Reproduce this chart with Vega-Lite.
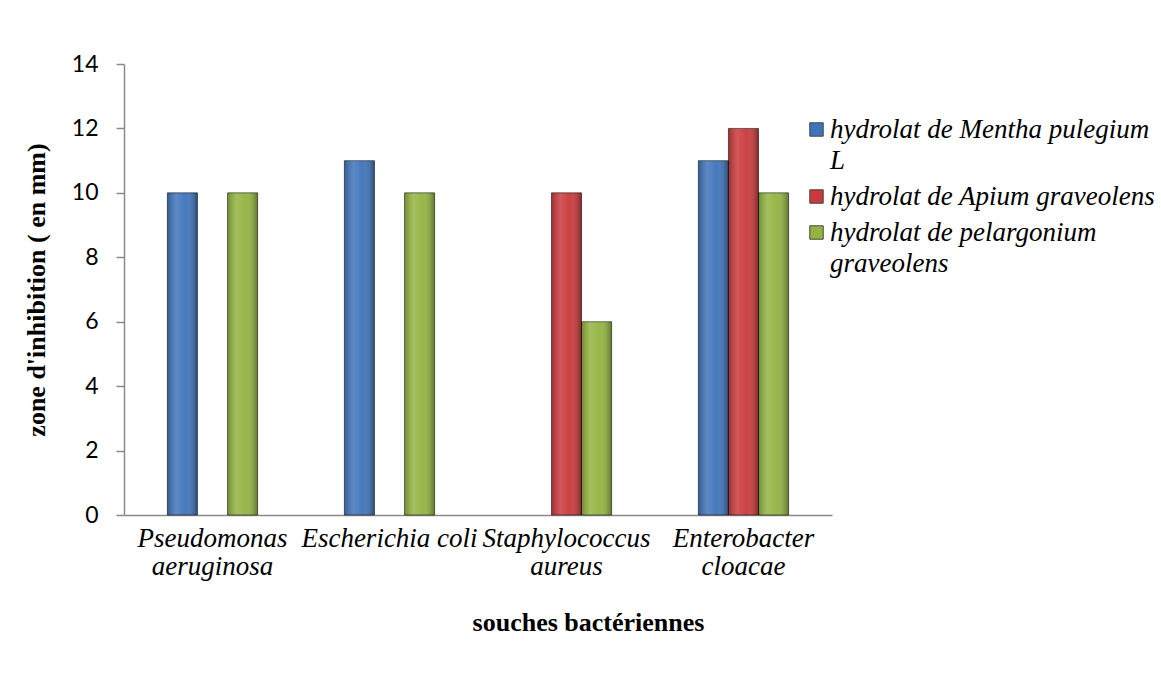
{
  "$schema": "https://vega.github.io/schema/vega-lite/v6.json",
  "width": 708,
  "height": 451,
  "autosize": "none",
  "padding": {"left": 124, "top": 64, "right": 329, "bottom": 162},
  "background": "white",
  "config": {"view": {"stroke": null}},
  "data": {
    "values": [
      {"souche": "Pseudomonas aeruginosa", "hydrolat": "hydrolat de Mentha pulegium L", "zone": 10},
      {"souche": "Pseudomonas aeruginosa", "hydrolat": "hydrolat de pelargonium graveolens", "zone": 10},
      {"souche": "Escherichia coli", "hydrolat": "hydrolat de Mentha pulegium L", "zone": 11},
      {"souche": "Escherichia coli", "hydrolat": "hydrolat de pelargonium graveolens", "zone": 10},
      {"souche": "Staphylococcus aureus", "hydrolat": "hydrolat de Apium graveolens", "zone": 10},
      {"souche": "Staphylococcus aureus", "hydrolat": "hydrolat de pelargonium graveolens", "zone": 6},
      {"souche": "Enterobacter cloacae", "hydrolat": "hydrolat de Mentha pulegium L", "zone": 11},
      {"souche": "Enterobacter cloacae", "hydrolat": "hydrolat de Apium graveolens", "zone": 12},
      {"souche": "Enterobacter cloacae", "hydrolat": "hydrolat de pelargonium graveolens", "zone": 10}
    ]
  },
  "encoding": {
    "x": {
      "field": "souche",
      "type": "nominal",
      "sort": ["Pseudomonas aeruginosa", "Escherichia coli", "Staphylococcus aureus", "Enterobacter cloacae"],
      "scale": {"paddingInner": 0.49, "paddingOuter": 0.245},
      "title": "souches bactériennes",
      "axis": {
        "labelAngle": 0,
        "ticks": false,
        "domainColor": "#8a8a8a",
        "domainWidth": 1.5,
        "labelFont": "Liberation Serif",
        "labelFontStyle": "italic",
        "labelFontSize": 27,
        "labelColor": "black",
        "labelLineHeight": 28,
        "labelPadding": 10,
        "labelLimit": 400,
        "labelOverlap": false,
        "labelExpr": "datum.value == 'Escherichia coli' ? datum.value : split(datum.value, ' ')",
        "titleFont": "Liberation Serif",
        "titleFontWeight": "bold",
        "titleFontSize": 26,
        "titleColor": "black",
        "titlePadding": 30,
        "titleX": 464,
        "titleAlign": "center"
      }
    },
    "xOffset": {
      "field": "hydrolat",
      "type": "nominal",
      "sort": ["hydrolat de Mentha pulegium L", "hydrolat de Apium graveolens", "hydrolat de pelargonium graveolens"],
      "scale": {"domain": ["hydrolat de Mentha pulegium L", "hydrolat de Apium graveolens", "hydrolat de pelargonium graveolens"], "paddingInner": 0, "paddingOuter": 0}
    },
    "y": {
      "field": "zone",
      "type": "quantitative",
      "scale": {"domain": [0, 14]},
      "title": "zone d'inhibition ( en mm)",
      "axis": {
        "values": [0, 2, 4, 6, 8, 10, 12, 14],
        "grid": false,
        "domainColor": "#8a8a8a",
        "domainWidth": 1.5,
        "tickColor": "#8a8a8a",
        "tickSize": 8,
        "tickWidth": 1.5,
        "labelFont": "Lato",
        "labelFontSize": 23,
        "labelColor": "black",
        "labelPadding": 18,
        "titleFont": "Liberation Serif",
        "titleFontWeight": "bold",
        "titleFontSize": 26,
        "titleColor": "black",
        "titlePadding": 22
      }
    }
  },
  "layer": [
    {
      "mark": {"type": "bar"},
      "encoding": {
        "color": {
          "field": "hydrolat",
          "type": "nominal",
          "scale": {
            "domain": ["hydrolat de Mentha pulegium L", "hydrolat de Apium graveolens", "hydrolat de pelargonium graveolens"],
            "range": ["#3F74BA", "#C93A3C", "#93B441"]
          },
          "legend": {
            "title": null,
            "orient": "none",
            "legendX": 679,
            "legendY": 52,
            "symbolType": "square",
            "symbolSize": 180,
            "symbolStrokeWidth": 1,
            "symbolStrokeColor": "#444",
            "labelFont": "Liberation Serif",
            "labelFontStyle": "italic",
            "labelFontSize": 27,
            "labelColor": "black",
            "labelLimit": 400,
            "labelOffset": 0,
            "rowPadding": 8,
            "labelExpr": "datum.label == 'hydrolat de Mentha pulegium L' ? ['hydrolat de Mentha pulegium', 'L'] : datum.label == 'hydrolat de pelargonium graveolens' ? ['hydrolat de pelargonium', 'graveolens'] : datum.label",
            "encode": {"labels": {"update": {"lineHeight": {"value": 31}}}}
          }
        }
      }
    },
    {
      "mark": {
        "type": "bar",
        "stroke": "rgba(0,0,0,0.5)",
        "strokeWidth": 1,
        "fill": {
          "gradient": "linear",
          "x1": 0, "y1": 0, "x2": 1, "y2": 0,
          "stops": [
            {"offset": 0, "color": "rgba(0,0,0,0.22)"},
            {"offset": 0.3, "color": "rgba(255,255,255,0.15)"},
            {"offset": 0.6, "color": "rgba(255,255,255,0.04)"},
            {"offset": 1, "color": "rgba(0,0,0,0.35)"}
          ]
        }
      }
    }
  ]
}
